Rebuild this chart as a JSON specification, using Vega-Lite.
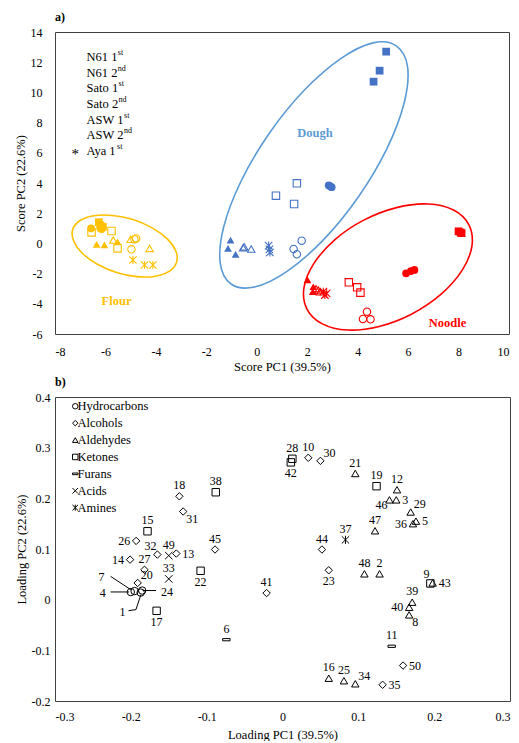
{
  "$schema": "https://vega.github.io/schema/vega-lite/v6.json",
  "background": "white",
  "padding": {"left": 13, "top": 10, "right": 0, "bottom": 0},
  "config": {
    "font": "Liberation Serif",
    "view": {"stroke": "#404040", "strokeWidth": 1},
    "axis": {"labelFont": "Liberation Serif", "titleFont": "Liberation Serif", "labelFontSize": 12, "titleFontSize": 12.5, "titleFontWeight": "normal", "labelColor": "#000", "titleColor": "#000", "ticks": false, "domain": false, "grid": false, "labelOverlap": false},
    "title": {"font": "Liberation Serif", "fontSize": 12, "fontWeight": "bold", "anchor": "start", "frame": "group", "color": "#000"}
  },
  "resolve": {"scale": {"shape": "independent", "color": "independent", "fill": "independent", "stroke": "independent"}, "legend": {"shape": "independent"}},
  "datasets": {
    "scores": [
      {"stage": "Flour", "sample": "N61 1st", "x": -6.57, "y": 1.0},
      {"stage": "Flour", "sample": "N61 1st", "x": -6.2, "y": 1.0},
      {"stage": "Flour", "sample": "N61 1st", "x": -6.15, "y": 0.95},
      {"stage": "Flour", "sample": "Sato 1st", "x": -6.26, "y": 1.4},
      {"stage": "Flour", "sample": "Sato 1st", "x": -6.2, "y": 1.2},
      {"stage": "Flour", "sample": "Sato 1st", "x": -6.1, "y": 1.1},
      {"stage": "Flour", "sample": "N61 2nd", "x": -4.78, "y": 0.33},
      {"stage": "Flour", "sample": "N61 2nd", "x": -4.97, "y": -0.39},
      {"stage": "Flour", "sample": "N61 2nd", "x": -4.85, "y": 0.28},
      {"stage": "Flour", "sample": "Sato 2nd", "x": -6.55, "y": 0.73},
      {"stage": "Flour", "sample": "Sato 2nd", "x": -5.76, "y": 0.82},
      {"stage": "Flour", "sample": "Sato 2nd", "x": -5.52, "y": -0.33},
      {"stage": "Flour", "sample": "ASW 1st", "x": -6.35, "y": -0.06},
      {"stage": "Flour", "sample": "ASW 1st", "x": -6.04, "y": -0.1},
      {"stage": "Flour", "sample": "ASW 1st", "x": -5.52, "y": 0.11},
      {"stage": "Flour", "sample": "ASW 2nd", "x": -5.69, "y": 0.22},
      {"stage": "Flour", "sample": "ASW 2nd", "x": -5.0, "y": 0.27},
      {"stage": "Flour", "sample": "ASW 2nd", "x": -4.25, "y": -0.33},
      {"stage": "Flour", "sample": "Aya 1st", "x": -4.91, "y": -1.1},
      {"stage": "Flour", "sample": "Aya 1st", "x": -4.45, "y": -1.43},
      {"stage": "Flour", "sample": "Aya 1st", "x": -4.12, "y": -1.43},
      {"stage": "Dough", "sample": "N61 1st", "x": 2.85, "y": 3.85},
      {"stage": "Dough", "sample": "N61 1st", "x": 2.9, "y": 3.8},
      {"stage": "Dough", "sample": "N61 1st", "x": 2.97, "y": 3.72},
      {"stage": "Dough", "sample": "N61 2nd", "x": 1.78, "y": 0.18},
      {"stage": "Dough", "sample": "N61 2nd", "x": 1.46, "y": -0.37},
      {"stage": "Dough", "sample": "N61 2nd", "x": 1.59, "y": -0.72},
      {"stage": "Dough", "sample": "Sato 1st", "x": 5.13, "y": 12.7},
      {"stage": "Dough", "sample": "Sato 1st", "x": 4.87, "y": 11.44},
      {"stage": "Dough", "sample": "Sato 1st", "x": 4.63, "y": 10.71},
      {"stage": "Dough", "sample": "Sato 2nd", "x": 1.59, "y": 3.98},
      {"stage": "Dough", "sample": "Sato 2nd", "x": 0.76, "y": 3.16},
      {"stage": "Dough", "sample": "Sato 2nd", "x": 1.48, "y": 2.61},
      {"stage": "Dough", "sample": "ASW 1st", "x": -1.04, "y": 0.22},
      {"stage": "Dough", "sample": "ASW 1st", "x": -1.14, "y": -0.33},
      {"stage": "Dough", "sample": "ASW 1st", "x": -0.84, "y": -0.72},
      {"stage": "Dough", "sample": "ASW 2nd", "x": -0.54, "y": -0.28},
      {"stage": "Dough", "sample": "ASW 2nd", "x": -0.22, "y": -0.37},
      {"stage": "Dough", "sample": "ASW 2nd", "x": -0.5, "y": -0.22},
      {"stage": "Dough", "sample": "Aya 1st", "x": 0.47, "y": -0.15},
      {"stage": "Dough", "sample": "Aya 1st", "x": 0.5, "y": -0.4},
      {"stage": "Dough", "sample": "Aya 1st", "x": 0.52, "y": -0.6},
      {"stage": "Noodle", "sample": "N61 1st", "x": 5.92, "y": -1.98},
      {"stage": "Noodle", "sample": "N61 1st", "x": 6.11, "y": -1.83},
      {"stage": "Noodle", "sample": "N61 1st", "x": 6.25, "y": -1.76},
      {"stage": "Noodle", "sample": "N61 2nd", "x": 4.37, "y": -4.52},
      {"stage": "Noodle", "sample": "N61 2nd", "x": 4.21, "y": -5.0},
      {"stage": "Noodle", "sample": "N61 2nd", "x": 4.51, "y": -5.03},
      {"stage": "Noodle", "sample": "Sato 1st", "x": 8.0, "y": 0.8},
      {"stage": "Noodle", "sample": "Sato 1st", "x": 8.08, "y": 0.72},
      {"stage": "Noodle", "sample": "Sato 1st", "x": 8.12, "y": 0.68},
      {"stage": "Noodle", "sample": "Sato 2nd", "x": 3.65, "y": -2.58},
      {"stage": "Noodle", "sample": "Sato 2nd", "x": 3.98, "y": -2.91},
      {"stage": "Noodle", "sample": "Sato 2nd", "x": 4.11, "y": -3.26},
      {"stage": "Noodle", "sample": "ASW 1st", "x": 2.01, "y": -2.42},
      {"stage": "Noodle", "sample": "ASW 1st", "x": 2.24, "y": -2.87},
      {"stage": "Noodle", "sample": "ASW 1st", "x": 2.22, "y": -3.2},
      {"stage": "Noodle", "sample": "ASW 2nd", "x": 2.35, "y": -3.0},
      {"stage": "Noodle", "sample": "ASW 2nd", "x": 2.44, "y": -3.09},
      {"stage": "Noodle", "sample": "ASW 2nd", "x": 2.51, "y": -3.2},
      {"stage": "Noodle", "sample": "Aya 1st", "x": 2.64, "y": -3.2},
      {"stage": "Noodle", "sample": "Aya 1st", "x": 2.77, "y": -3.31},
      {"stage": "Noodle", "sample": "Aya 1st", "x": 2.7, "y": -3.42}
    ],
    "ellipses": [
      {"group": "Flour", "i": 0, "x": -3.18, "y": -1.25},
      {"group": "Flour", "i": 1, "x": -3.46, "y": -1.84},
      {"group": "Flour", "i": 2, "x": -4.01, "y": -2.17},
      {"group": "Flour", "i": 3, "x": -4.75, "y": -2.2},
      {"group": "Flour", "i": 4, "x": -5.56, "y": -1.92},
      {"group": "Flour", "i": 5, "x": -6.32, "y": -1.38},
      {"group": "Flour", "i": 6, "x": -6.92, "y": -0.65},
      {"group": "Flour", "i": 7, "x": -7.26, "y": 0.16},
      {"group": "Flour", "i": 8, "x": -7.3, "y": 0.91},
      {"group": "Flour", "i": 9, "x": -7.02, "y": 1.5},
      {"group": "Flour", "i": 10, "x": -6.46, "y": 1.83},
      {"group": "Flour", "i": 11, "x": -5.72, "y": 1.85},
      {"group": "Flour", "i": 12, "x": -4.91, "y": 1.58},
      {"group": "Flour", "i": 13, "x": -4.15, "y": 1.03},
      {"group": "Flour", "i": 14, "x": -3.55, "y": 0.3},
      {"group": "Flour", "i": 15, "x": -3.21, "y": -0.5},
      {"group": "Dough", "i": 0, "x": 5.54, "y": 13.07},
      {"group": "Dough", "i": 1, "x": 5.98, "y": 11.68},
      {"group": "Dough", "i": 2, "x": 5.84, "y": 9.28},
      {"group": "Dough", "i": 3, "x": 5.16, "y": 6.28},
      {"group": "Dough", "i": 4, "x": 4.04, "y": 3.11},
      {"group": "Dough", "i": 5, "x": 2.65, "y": 0.25},
      {"group": "Dough", "i": 6, "x": 1.2, "y": -1.85},
      {"group": "Dough", "i": 7, "x": -0.09, "y": -2.89},
      {"group": "Dough", "i": 8, "x": -1.02, "y": -2.69},
      {"group": "Dough", "i": 9, "x": -1.45, "y": -1.29},
      {"group": "Dough", "i": 10, "x": -1.31, "y": 1.1},
      {"group": "Dough", "i": 11, "x": -0.63, "y": 4.1},
      {"group": "Dough", "i": 12, "x": 0.49, "y": 7.28},
      {"group": "Dough", "i": 13, "x": 1.88, "y": 10.14},
      {"group": "Dough", "i": 14, "x": 3.33, "y": 12.24},
      {"group": "Dough", "i": 15, "x": 4.61, "y": 13.28},
      {"group": "Noodle", "i": 0, "x": 8.41, "y": 1.23},
      {"group": "Noodle", "i": 1, "x": 8.53, "y": -0.18},
      {"group": "Noodle", "i": 2, "x": 8.14, "y": -1.79},
      {"group": "Noodle", "i": 3, "x": 7.31, "y": -3.36},
      {"group": "Noodle", "i": 4, "x": 6.15, "y": -4.67},
      {"group": "Noodle", "i": 5, "x": 4.85, "y": -5.5},
      {"group": "Noodle", "i": 6, "x": 3.6, "y": -5.74},
      {"group": "Noodle", "i": 7, "x": 2.6, "y": -5.33},
      {"group": "Noodle", "i": 8, "x": 1.99, "y": -4.35},
      {"group": "Noodle", "i": 9, "x": 1.87, "y": -2.95},
      {"group": "Noodle", "i": 10, "x": 2.26, "y": -1.34},
      {"group": "Noodle", "i": 11, "x": 3.09, "y": 0.24},
      {"group": "Noodle", "i": 12, "x": 4.24, "y": 1.54},
      {"group": "Noodle", "i": 13, "x": 5.54, "y": 2.37},
      {"group": "Noodle", "i": 14, "x": 6.79, "y": 2.61},
      {"group": "Noodle", "i": 15, "x": 7.8, "y": 2.21}
    ],
    "groupLabels": [
      {"group": "Dough", "x": 2.31, "y": 7.33},
      {"group": "Flour", "x": -5.56, "y": -3.79},
      {"group": "Noodle", "x": 7.56, "y": -5.25}
    ],
    "legendA": [
      {"label": "N61 1", "sup": "st", "x": -6.75, "xs": -5.51, "y": 12.34},
      {"label": "N61 2", "sup": "nd", "x": -6.75, "xs": -5.51, "y": 11.3},
      {"label": "Sato 1", "sup": "st", "x": -6.75, "xs": -5.48, "y": 10.3},
      {"label": "Sato 2", "sup": "nd", "x": -6.75, "xs": -5.48, "y": 9.2},
      {"label": "ASW 1", "sup": "st", "x": -6.75, "xs": -5.26, "y": 8.2},
      {"label": "ASW 2", "sup": "nd", "x": -6.75, "xs": -5.26, "y": 7.2},
      {"label": "Aya 1", "sup": "st", "x": -6.75, "xs": -5.54, "y": 6.1}
    ],
    "loadings": [
      {"id": "1", "cls": "Hydrocarbons", "x": -0.187, "y": 0.014, "pos": "none"},
      {"id": "2", "cls": "Aldehydes", "x": 0.128, "y": 0.051, "pos": "above"},
      {"id": "3", "cls": "Aldehydes", "x": 0.150, "y": 0.197, "pos": "right"},
      {"id": "4", "cls": "Hydrocarbons", "x": -0.200, "y": 0.015, "pos": "none"},
      {"id": "5", "cls": "Aldehydes", "x": 0.176, "y": 0.155, "pos": "right"},
      {"id": "6", "cls": "Furans", "x": -0.074, "y": -0.079, "pos": "above"},
      {"id": "7", "cls": "Hydrocarbons", "x": -0.195, "y": 0.017, "pos": "none"},
      {"id": "8", "cls": "Aldehydes", "x": 0.167, "y": -0.030, "pos": "belowright"},
      {"id": "9", "cls": "Ketones", "x": 0.195, "y": 0.032, "pos": "aboveleft"},
      {"id": "10", "cls": "Alcohols", "x": 0.034, "y": 0.280, "pos": "above"},
      {"id": "11", "cls": "Furans", "x": 0.144, "y": -0.092, "pos": "above"},
      {"id": "12", "cls": "Aldehydes", "x": 0.151, "y": 0.217, "pos": "above"},
      {"id": "13", "cls": "Alcohols", "x": -0.140, "y": 0.091, "pos": "right"},
      {"id": "14", "cls": "Alcohols", "x": -0.201, "y": 0.079, "pos": "left"},
      {"id": "15", "cls": "Ketones", "x": -0.178, "y": 0.135, "pos": "above"},
      {"id": "16", "cls": "Aldehydes", "x": 0.061, "y": -0.155, "pos": "above"},
      {"id": "17", "cls": "Ketones", "x": -0.166, "y": -0.022, "pos": "below"},
      {"id": "18", "cls": "Alcohols", "x": -0.136, "y": 0.204, "pos": "above"},
      {"id": "19", "cls": "Ketones", "x": 0.124, "y": 0.224, "pos": "above"},
      {"id": "20", "cls": "Alcohols", "x": -0.191, "y": 0.033, "pos": "aboveright"},
      {"id": "21", "cls": "Aldehydes", "x": 0.096, "y": 0.249, "pos": "above"},
      {"id": "22", "cls": "Ketones", "x": -0.108, "y": 0.057, "pos": "below"},
      {"id": "23", "cls": "Alcohols", "x": 0.061, "y": 0.058, "pos": "below"},
      {"id": "24", "cls": "Hydrocarbons", "x": -0.185, "y": 0.018, "pos": "none"},
      {"id": "25", "cls": "Aldehydes", "x": 0.081, "y": -0.160, "pos": "above"},
      {"id": "26", "cls": "Alcohols", "x": -0.193, "y": 0.116, "pos": "left"},
      {"id": "27", "cls": "Alcohols", "x": -0.182, "y": 0.059, "pos": "above"},
      {"id": "28", "cls": "Ketones", "x": 0.013, "y": 0.278, "pos": "above"},
      {"id": "29", "cls": "Aldehydes", "x": 0.169, "y": 0.173, "pos": "aboveright"},
      {"id": "30", "cls": "Alcohols", "x": 0.050, "y": 0.274, "pos": "aboveright"},
      {"id": "31", "cls": "Alcohols", "x": -0.131, "y": 0.174, "pos": "belowright"},
      {"id": "32", "cls": "Alcohols", "x": -0.165, "y": 0.089, "pos": "aboveleft"},
      {"id": "33", "cls": "Acids", "x": -0.150, "y": 0.041, "pos": "above"},
      {"id": "34", "cls": "Aldehydes", "x": 0.096, "y": -0.166, "pos": "aboveright"},
      {"id": "35", "cls": "Alcohols", "x": 0.132, "y": -0.168, "pos": "right"},
      {"id": "36", "cls": "Aldehydes", "x": 0.172, "y": 0.150, "pos": "left"},
      {"id": "37", "cls": "Amines", "x": 0.083, "y": 0.118, "pos": "above"},
      {"id": "38", "cls": "Ketones", "x": -0.088, "y": 0.212, "pos": "above"},
      {"id": "39", "cls": "Aldehydes", "x": 0.171, "y": -0.005, "pos": "above"},
      {"id": "40", "cls": "Aldehydes", "x": 0.167, "y": -0.015, "pos": "left"},
      {"id": "41", "cls": "Alcohols", "x": -0.021, "y": 0.013, "pos": "above"},
      {"id": "42", "cls": "Ketones", "x": 0.011, "y": 0.271, "pos": "below"},
      {"id": "43", "cls": "Aldehydes", "x": 0.198, "y": 0.033, "pos": "right"},
      {"id": "44", "cls": "Alcohols", "x": 0.052, "y": 0.099, "pos": "above"},
      {"id": "45", "cls": "Alcohols", "x": -0.089, "y": 0.099, "pos": "above"},
      {"id": "46", "cls": "Aldehydes", "x": 0.141, "y": 0.197, "pos": "belowleft"},
      {"id": "47", "cls": "Aldehydes", "x": 0.122, "y": 0.136, "pos": "above"},
      {"id": "48", "cls": "Aldehydes", "x": 0.108, "y": 0.051, "pos": "above"},
      {"id": "49", "cls": "Acids", "x": -0.150, "y": 0.087, "pos": "above"},
      {"id": "50", "cls": "Alcohols", "x": 0.159, "y": -0.130, "pos": "right"}
    ],
    "hlabels": [
      {"t": "7", "x": -0.2387, "y": 0.044},
      {"t": "4", "x": -0.237, "y": 0.013},
      {"t": "1", "x": -0.211, "y": -0.025},
      {"t": "24", "x": -0.1524, "y": 0.0158}
    ],
    "leaders": [
      {"x": -0.2267, "y": 0.046, "x2": -0.2, "y2": 0.0197},
      {"x": -0.2267, "y": 0.0152, "x2": -0.2023, "y2": 0.0152},
      {"x": -0.203, "y": -0.0217, "x2": -0.1933, "y2": -0.0197},
      {"x": -0.1933, "y": -0.0197, "x2": -0.1867, "y2": 0.0099},
      {"x": -0.1844, "y": 0.018, "x2": -0.1667, "y2": 0.018}
    ]
  },
  "spacing": 2,
  "vconcat": [
    {
      "width": 454,
      "height": 302,
      "title": {"text": "a)", "offset": 2},
      "layer": [
        {
          "data": {"name": "ellipses"},
          "mark": {"type": "line", "interpolate": "cardinal-closed", "strokeWidth": 1.6},
          "encoding": {
            "x": {"field": "x", "type": "quantitative", "scale": {"domain": [-8, 10], "nice": false, "zero": false},
              "axis": {"values": [-8, -6, -4, -2, 0, 2, 4, 6, 8, 10], "labelExpr": "'' + datum.value", "title": "Score PC1 (39.5%)", "labelPadding": 12, "titlePadding": 3, "labelOverlap": false}},
            "y": {"field": "y", "type": "quantitative", "scale": {"domain": [-6, 14], "nice": false, "zero": false},
              "axis": {"values": [-6, -4, -2, 0, 2, 4, 6, 8, 10, 12, 14], "tickCount": 11, "labelExpr": "'' + datum.value", "title": "Score PC2 (22.6%)", "labelPadding": 13, "titlePadding": 3, "labelOverlap": false, "labelSeparation": 0, "labelBound": false}},
            "order": {"field": "i", "type": "quantitative"},
            "stroke": {"field": "group", "type": "nominal", "scale": {"domain": ["Flour", "Dough", "Noodle"], "range": ["#FFC000", "#5B9BD5", "#FF0000"]}, "legend": null}
          }
        },
        {"mark": {"type": "rule", "color": "#000", "strokeWidth": 2}, "encoding": {"x": {"datum": 0}}},
        {"mark": {"type": "rule", "color": "#000", "strokeWidth": 1.2}, "encoding": {"y": {"datum": 0}}},
        {
          "data": {"name": "scores"},
          "transform": [{"filter": "indexof(datum.sample, '1st') >= 0 && datum.sample != 'Aya 1st'"}],
          "mark": {"type": "point", "filled": true, "opacity": 1, "size": 60},
          "encoding": {
            "x": {"field": "x", "type": "quantitative"},
            "y": {"field": "y", "type": "quantitative"},
            "shape": {"field": "sample", "type": "nominal", "legend": null, "scale": {"domain": ["N61 1st", "N61 2nd", "Sato 1st", "Sato 2nd", "ASW 1st", "ASW 2nd", "Aya 1st"], "range": ["circle", "circle", "square", "square", "triangle-up", "triangle-up", "M-1,-1L1,1M-1,1L1,-1M0,-1.1L0,1.1"]}},
            "color": {"field": "stage", "type": "nominal", "legend": null, "scale": {"domain": ["Flour", "Dough", "Noodle"], "range": ["#FFC000", "#4472C4", "#FF0000"]}}
          }
        },
        {
          "data": {"name": "scores"},
          "transform": [{"filter": "indexof(datum.sample, '2nd') >= 0 || datum.sample == 'Aya 1st'"}],
          "mark": {"type": "point", "filled": false, "opacity": 1, "size": 55, "strokeWidth": 1.1},
          "encoding": {
            "x": {"field": "x", "type": "quantitative"},
            "y": {"field": "y", "type": "quantitative"},
            "shape": {"field": "sample", "type": "nominal", "legend": null},
            "color": {"field": "stage", "type": "nominal", "legend": null}
          }
        },
        {
          "data": {"name": "groupLabels"},
          "mark": {"type": "text", "fontWeight": "bold", "fontSize": 12.5, "font": "Liberation Serif"},
          "encoding": {
            "x": {"field": "x", "type": "quantitative"},
            "y": {"field": "y", "type": "quantitative"},
            "text": {"field": "group"},
            "fill": {"field": "group", "type": "nominal", "legend": null, "scale": {"domain": ["Flour", "Dough", "Noodle"], "range": ["#FFC000", "#5B9BD5", "#FF0000"]}}
          }
        },
        {
          "data": {"name": "legendA"},
          "mark": {"type": "text", "align": "left", "baseline": "middle", "fontSize": 12.5, "font": "Liberation Serif", "color": "#000"},
          "encoding": {
            "x": {"field": "x", "type": "quantitative"},
            "y": {"field": "y", "type": "quantitative"},
            "text": {"field": "label"}
          }
        },
        {
          "data": {"name": "legendA"},
          "mark": {"type": "text", "align": "left", "baseline": "middle", "fontSize": 8, "dy": -4, "font": "Liberation Serif", "color": "#000"},
          "encoding": {
            "x": {"field": "xs", "type": "quantitative"},
            "y": {"field": "y", "type": "quantitative"},
            "text": {"field": "sup"}
          }
        },
        {
          "data": {"values": [{"t": "*", "x": -7.2, "y": 6.1}]},
          "mark": {"type": "text", "align": "center", "baseline": "middle", "fontSize": 15, "dy": 3, "font": "Liberation Serif", "color": "#000"},
          "encoding": {
            "x": {"field": "x", "type": "quantitative"},
            "y": {"field": "y", "type": "quantitative"},
            "text": {"field": "t"}
          }
        }
      ]
    },
    {
      "width": 455,
      "height": 304,
      "title": {"text": "b)", "offset": 2},
      "layer": [
        {
          "mark": {"type": "rule", "color": "#000", "strokeWidth": 2},
          "encoding": {
            "x": {"datum": 0, "type": "quantitative", "scale": {"domain": [-0.3, 0.3], "nice": false, "zero": false},
              "axis": {"values": [-0.3, -0.2, -0.1, 0, 0.1, 0.2, 0.3], "labelExpr": "'' + datum.value", "title": "Loading PC1 (39.5%)", "labelPadding": 10, "titlePadding": 6, "labelOverlap": false}}
          }
        },
        {
          "mark": {"type": "rule", "color": "#000", "strokeWidth": 2},
          "encoding": {
            "y": {"datum": 0, "type": "quantitative", "scale": {"domain": [-0.2, 0.4], "nice": false, "zero": false},
              "axis": {"values": [-0.2, -0.1, 0, 0.1, 0.2, 0.3, 0.4], "labelExpr": "'' + datum.value", "title": "Loading PC2 (22.6%)", "labelPadding": 5, "titlePadding": 3, "labelOverlap": false}}
          }
        },
        {
          "data": {"name": "leaders"},
          "mark": {"type": "rule", "color": "#000", "strokeWidth": 1},
          "encoding": {
            "x": {"field": "x", "type": "quantitative"},
            "y": {"field": "y", "type": "quantitative"},
            "x2": {"field": "x2"},
            "y2": {"field": "y2"}
          }
        },
        {
          "data": {"name": "loadings"},
          "mark": {"type": "point", "filled": false, "opacity": 1, "size": 55, "strokeWidth": 1, "color": "#000"},
          "encoding": {
            "x": {"field": "x", "type": "quantitative"},
            "y": {"field": "y", "type": "quantitative"},
            "shape": {"field": "cls", "type": "nominal",
              "scale": {"domain": ["Hydrocarbons", "Alcohols", "Aldehydes", "Ketones", "Furans", "Acids", "Amines"], "range": ["circle", "diamond", "triangle-up", "square", "M-1,-0.3L1,-0.3L1,0.3L-1,0.3Z", "M-1,-1L1,1M-1,1L1,-1", "M-1,-1L1,1M-1,1L1,-1M0,-1.1L0,1.1"]},
              "legend": {"title": null, "orient": "none", "legendX": 14, "legendY": 3, "padding": 0, "labelFont": "Liberation Serif", "labelFontSize": 12.5, "labelColor": "#000", "symbolSize": 30, "symbolStrokeColor": "#000", "symbolStrokeWidth": 1, "rowPadding": 3.9, "labelOffset": -4}}
          }
        },
        {
          "data": {"name": "hlabels"},
          "mark": {"type": "text", "align": "center", "baseline": "middle", "fontSize": 12, "font": "Liberation Serif", "color": "#000"},
          "encoding": {"x": {"field": "x", "type": "quantitative"}, "y": {"field": "y", "type": "quantitative"}, "text": {"field": "t"}}
        },
        {
          "data": {"name": "loadings"},
          "transform": [{"filter": "datum.pos == 'above'"}],
          "mark": {"type": "text", "align": "center", "baseline": "middle", "dy": -11, "fontSize": 12, "font": "Liberation Serif", "color": "#000"},
          "encoding": {"x": {"field": "x", "type": "quantitative"}, "y": {"field": "y", "type": "quantitative"}, "text": {"field": "id"}}
        },
        {
          "data": {"name": "loadings"},
          "transform": [{"filter": "datum.pos == 'below'"}],
          "mark": {"type": "text", "align": "center", "baseline": "middle", "dy": 11, "fontSize": 12, "font": "Liberation Serif", "color": "#000"},
          "encoding": {"x": {"field": "x", "type": "quantitative"}, "y": {"field": "y", "type": "quantitative"}, "text": {"field": "id"}}
        },
        {
          "data": {"name": "loadings"},
          "transform": [{"filter": "datum.pos == 'left'"}],
          "mark": {"type": "text", "align": "right", "baseline": "middle", "dx": -6, "fontSize": 12, "font": "Liberation Serif", "color": "#000"},
          "encoding": {"x": {"field": "x", "type": "quantitative"}, "y": {"field": "y", "type": "quantitative"}, "text": {"field": "id"}}
        },
        {
          "data": {"name": "loadings"},
          "transform": [{"filter": "datum.pos == 'right'"}],
          "mark": {"type": "text", "align": "left", "baseline": "middle", "dx": 6, "fontSize": 12, "font": "Liberation Serif", "color": "#000"},
          "encoding": {"x": {"field": "x", "type": "quantitative"}, "y": {"field": "y", "type": "quantitative"}, "text": {"field": "id"}}
        },
        {
          "data": {"name": "loadings"},
          "transform": [{"filter": "datum.pos == 'aboveright'"}],
          "mark": {"type": "text", "align": "left", "baseline": "middle", "dx": 3, "dy": -8, "fontSize": 12, "font": "Liberation Serif", "color": "#000"},
          "encoding": {"x": {"field": "x", "type": "quantitative"}, "y": {"field": "y", "type": "quantitative"}, "text": {"field": "id"}}
        },
        {
          "data": {"name": "loadings"},
          "transform": [{"filter": "datum.pos == 'aboveleft'"}],
          "mark": {"type": "text", "align": "right", "baseline": "middle", "dx": -1, "dy": -9, "fontSize": 12, "font": "Liberation Serif", "color": "#000"},
          "encoding": {"x": {"field": "x", "type": "quantitative"}, "y": {"field": "y", "type": "quantitative"}, "text": {"field": "id"}}
        },
        {
          "data": {"name": "loadings"},
          "transform": [{"filter": "datum.pos == 'belowright'"}],
          "mark": {"type": "text", "align": "left", "baseline": "middle", "dx": 3, "dy": 7, "fontSize": 12, "font": "Liberation Serif", "color": "#000"},
          "encoding": {"x": {"field": "x", "type": "quantitative"}, "y": {"field": "y", "type": "quantitative"}, "text": {"field": "id"}}
        },
        {
          "data": {"name": "loadings"},
          "transform": [{"filter": "datum.pos == 'belowleft'"}],
          "mark": {"type": "text", "align": "right", "baseline": "middle", "dx": -2, "dy": 5, "fontSize": 12, "font": "Liberation Serif", "color": "#000"},
          "encoding": {"x": {"field": "x", "type": "quantitative"}, "y": {"field": "y", "type": "quantitative"}, "text": {"field": "id"}}
        }
      ]
    }
  ]
}
